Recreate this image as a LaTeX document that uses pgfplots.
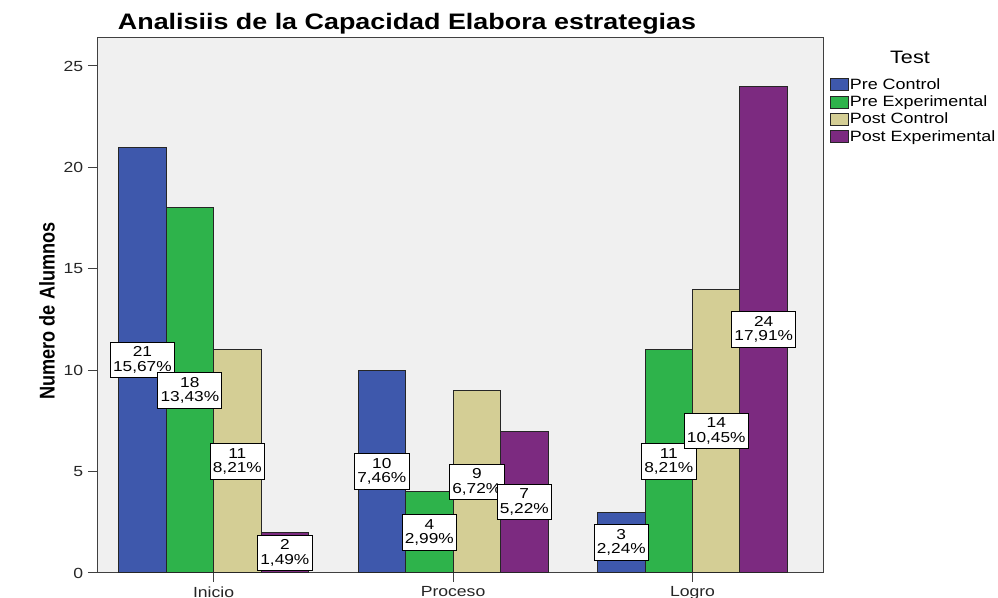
\documentclass[border=0pt]{standalone}
\usepackage{fontspec}
\setmainfont{Liberation Sans}[FakeStretch=1.2]
\newfontfamily\ylabfont{Liberation Sans}[FakeStretch=0.85]
\usepackage{pgfplots}
\usepackage{pgfplotstable}
\pgfplotsset{compat=1.18}
\definecolor{cblue}{HTML}{3E58AC}
\definecolor{cgreen}{HTML}{2EB34B}
\definecolor{ctan}{HTML}{D4CE95}
\definecolor{cpurple}{HTML}{7C2A80}
\definecolor{bgray}{HTML}{F0F0F0}

\pgfplotstableread{
x y pct
0 21 15,67\%
1 10 7,46\%
2 3 2,24\%
}\precontrol
\pgfplotstableread{
x y pct
0 18 13,43\%
1 4 2,99\%
2 11 8,21\%
}\preexp
\pgfplotstableread{
x y pct
0 11 8,21\%
1 9 6,72\%
2 14 10,45\%
}\postcontrol
\pgfplotstableread{
x y pct
0 2 1,49\%
1 7 5,22\%
2 24 17,91\%
}\postexp

\pgfplotsset{
  sqlegend/.style={legend image code/.code={\draw[##1] (0pt,-4.5pt) rectangle (13pt,4.5pt);}},
  lbl/.style={forget plot, draw=none, fill=none,
    point meta=explicit symbolic,
    visualization depends on={\thisrow{y} \as \rawy},
    nodes near coords={\pgfmathprintnumber{\rawy}\\\pgfplotspointmeta},
    every node near coord/.append style={anchor=center, yshift={-7.605pt*\rawy},
      draw=black, fill=white, text=black, align=center, line width=0.6pt,
      font=\fontsize{10.8}{10.8}\selectfont, inner xsep=2pt, inner ysep=3.5pt}},
}

\begin{document}
\begin{tikzpicture}
\useasboundingbox (-72.75pt,-18.75pt) rectangle (675.75pt,429.75pt);
\begin{axis}[
  scale only axis, width=544.5pt, height=401.25pt,
  clip=false,
  ybar=0pt, bar width=35.625pt,
  every axis plot post/.append style={bar shift=0pt, sqlegend},
  xmin=-0.487, xmax=2.545, ymin=0, ymax=26.38,
  axis background/.style={fill=bgray},
  axis line style={black!75, line width=0.75pt},
  xtick={0,1,2}, xticklabels={Inicio,Proceso,Logro},
  ytick={0,5,10,15,20,25},
  tick align=outside, tick pos=left, major tick length=6.75pt,
  tick style={black!75, line width=0.75pt},
  ticklabel style={font=\fontsize{11}{13}\selectfont, text=black!85},
  /pgf/number format/assume math mode=true,
  title={\bfseries Analisiis de la Capacidad Elabora estrategias},
  every axis title shift=0pt,
  title style={at={(axis description cs:0.427,1.0150)}, anchor=base, inner sep=0pt, font=\fontsize{16.8}{18}\selectfont},
  ylabel={\ylabfont\bfseries Numero de Alumnos},
  ylabel style={at={(axis description cs:-0.0689,0.4897)}, anchor=center, font=\fontsize{16}{18}\selectfont},
  legend style={at={(1.004,0.934)}, anchor=north west, draw=none, fill=none,
    font=\fontsize{11.2}{13}\selectfont, row sep=0pt,
    nodes={inner sep=1pt, text height=8.6pt, text depth=2.4pt}},
  legend cell align=left,
]
\addplot[fill=cblue, draw=black!85, line width=0.75pt] table[x expr=\thisrow{x}-0.2975, y=y] {\precontrol};
\addlegendentry{Pre Control}
\addplot[fill=cgreen, draw=black!85, line width=0.75pt] table[x expr=\thisrow{x}-0.0992, y=y] {\preexp};
\addlegendentry{Pre Experimental}
\addplot[fill=ctan, draw=black!85, line width=0.75pt] table[x expr=\thisrow{x}+0.0992, y=y] {\postcontrol};
\addlegendentry{Post Control}
\addplot[fill=cpurple, draw=black!85, line width=0.75pt] table[x expr=\thisrow{x}+0.2975, y=y] {\postexp};
\addlegendentry{Post Experimental}

\addplot[lbl] table[x expr=\thisrow{x}-0.2975, y=y, meta=pct] {\precontrol};
\addplot[lbl] table[x expr=\thisrow{x}-0.0992, y=y, meta=pct] {\preexp};
\addplot[lbl] table[x expr=\thisrow{x}+0.0992, y=y, meta=pct] {\postcontrol};
\addplot[lbl] table[x expr=\thisrow{x}+0.2975, y=y, meta=pct] {\postexp};

\node[font=\fontsize{13.5}{14}\selectfont] at (axis description cs:1.1198,0.9645) {Test};
\end{axis}
\end{tikzpicture}
\end{document}
